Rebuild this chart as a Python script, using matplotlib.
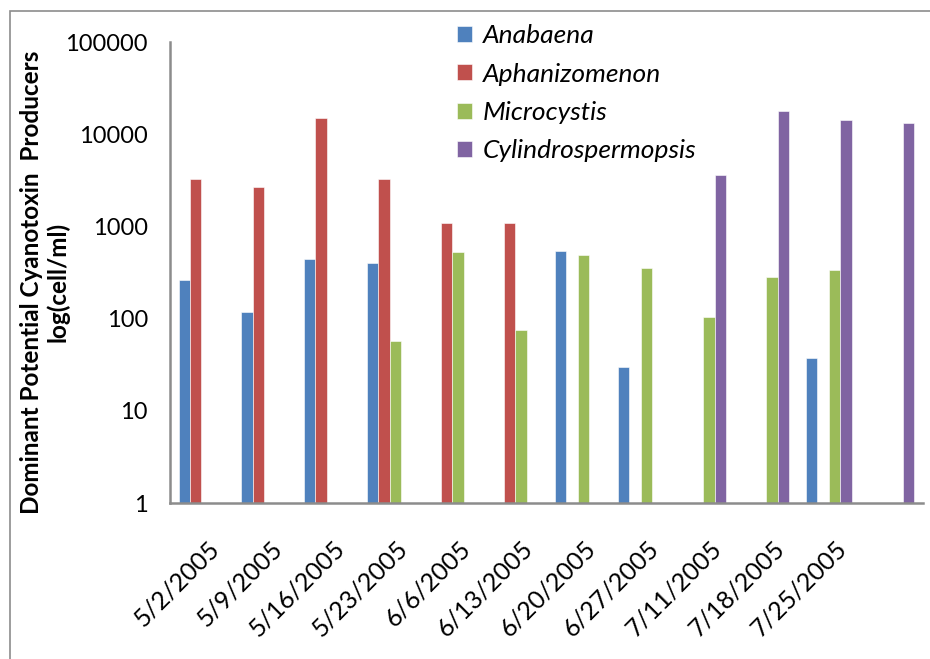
import matplotlib
matplotlib.use("Agg")
import matplotlib.pyplot as plt
from matplotlib.patches import Rectangle
from matplotlib.transforms import ScaledTranslation
import numpy as np

plt.rcParams['font.family'] = ['Lato', 'DejaVu Sans']

# sampling dates (last group has no label in the original)
dates = ['5/2/2005', '5/9/2005', '5/16/2005', '5/23/2005', '6/6/2005', '6/13/2005',
         '6/20/2005', '6/27/2005', '7/11/2005', '7/18/2005', '7/25/2005', '']

# cells/ml, None = not detected
anabaena = [265, 117, 446, 403, None, None, 539, 30, None, None, 37, None]
aphanizomenon = [3300, 2650, 14900, 3240, 1078, 1078, None, None, None, None, None, None]
microcystis = [None, None, None, 57, 526, 75, 496, 356, 103, 284, 338, None]
cylindrospermopsis = [None, None, None, None, None, None, None, None, 3585, 17650, 14200, 13180]

series = [('Anabaena', anabaena, '#4F81BD'),
          ('Aphanizomenon', aphanizomenon, '#C0504D'),
          ('Microcystis', microcystis, '#9BBB59'),
          ('Cylindrospermopsis', cylindrospermopsis, '#8064A2')]

fig = plt.figure(figsize=(9.3, 6.59), dpi=100)
ax = fig.add_axes([0.1828, 0.2367, 0.8097, 0.6995])

x = np.arange(len(dates))
w = 1 / 5.5
for k, (name, vals, col) in enumerate(series):
    v = np.array([np.nan if a is None else a for a in vals], dtype=float)
    m = ~np.isnan(v)
    ax.bar(x[m] + (k - 1.5) * w, v[m] - 1, width=w, color=col, label=name,
           edgecolor='white', linewidth=0.4, bottom=1)

ax.set_yscale('log')
ax.set_ylim(1, 100000)
ax.set_xlim(-0.5, len(dates) - 0.5)
ax.set_yticks([1, 10, 100, 1000, 10000, 100000])
ax.set_yticklabels(['1', '10', '100', '1000', '10000', '100000'])
ax.minorticks_off()
ax.tick_params(axis='y', length=0, pad=16, labelsize=17)
ax.set_xticks(x)
ax.set_xticklabels(dates, rotation=45, ha='right', va='top', rotation_mode='anchor', fontsize=18)
ax.tick_params(axis='x', length=0, pad=24)
for lab in ax.get_xticklabels():
    lab.set_transform(lab.get_transform() + ScaledTranslation(6 / 100, 0, fig.dpi_scale_trans))

for s in ['top', 'right']:
    ax.spines[s].set_visible(False)
for s in ['left', 'bottom']:
    ax.spines[s].set_color('#8c8c8c')
    ax.spines[s].set_linewidth(1.8)

fig.text(0.034, 0.572, 'Dominant Potential Cyanotoxin  Producers', rotation=90,
         ha='center', va='center', fontsize=17.5, fontweight='bold')
fig.text(0.062, 0.572, 'log(cell/ml)', rotation=90,
         ha='center', va='center', fontsize=17.5, fontweight='bold')

leg = ax.legend(loc='upper left', bbox_to_anchor=(0.35, 1.09), frameon=False,
                prop={'style': 'italic', 'size': 19}, handlelength=0.55, handleheight=0.55,
                handletextpad=0.4, labelspacing=0.58)

# chart-area border (cropped at right/bottom in the original)
fig.patches.append(Rectangle((10 / 930, -0.1), 1.2, 1 - 11 / 659 + 0.1,
                             transform=fig.transFigure, fill=False,
                             edgecolor='#8c8c8c', linewidth=1.2))

fig.savefig('out.png', dpi=100)
